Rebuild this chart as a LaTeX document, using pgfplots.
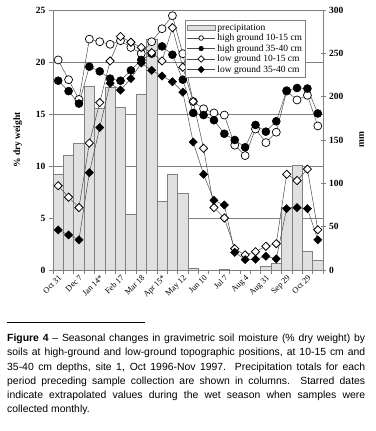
\documentclass[border=0pt]{standalone}
\usepackage{pgfplots}
\usepackage{pgfplotstable}
\pgfplotsset{compat=1.18}
\usepackage{fontspec}
\setmainfont{Liberation Serif}
\newfontfamily\capfont{Liberation Sans}
\definecolor{axgray}{gray}{0.5}
\definecolor{barfill}{gray}{0.88}
\pgfplotstableread{
x precip h10 h35 l10 l35
0 110 20.2 18.2 8.1 3.85
1 132 18.3 17.2 7.0 3.37
2 146 16.4 16.0 6.0 2.9
3 212 22.2 19.55 12.2 9.36
4 187 21.95 19.1 16.1 13.7
5 211 21.7 18.4 20.1 17.95
6 188 22.05 18.2 22.45 17.3
7 64 21.4 19.2 21.9 18.4
8 203 20.8 20.2 21.4 19.9
9 266 21.95 20.8 20.9 19.2
10 79 23.2 21.5 20.1 18.65
11 110 24.45 20.7 23.3 18.1
12 88 20.8 18.3 19.5 17.1
13 2.5 16.2 15.1 16.2 12.3
14 0 15.5 14.9 11.7 9.2
15 0 15.1 14.4 6.0 6.7
16 1 14.9 13.1 5.0 6.25
17 0 12.0 12.5 2.05 1.7
18 0 11.0 11.8 1.45 1.0
19 0 13.55 13.95 1.76 1.03
20 4.5 12.25 13.3 2.28 1.32
21 7.7 13.25 14.3 2.53 1.07
22 72 17.2 17.25 9.2 5.9
23 121 16.35 17.5 8.6 6.0
24 22 16.8 17.45 9.7 5.9
25 10.8 13.85 15.05 3.87 2.9
}\datatable
\begin{document}
\begin{tikzpicture}[x=1pt,y=1pt]
\path[use as bounding box] (0,0) rectangle (375,431);
\pgfplotsset{
  base/.style={
    scale only axis, width=270pt, height=260pt,
    at={(53pt,161pt)}, anchor=south west,
    xmin=-0.5, xmax=25.5,
    /pgf/number format/assume math mode=true,
    yticklabel style={font=\bfseries\fontsize{9.5}{10}\selectfont},
    axis line style={axgray, line width=0.6pt},
    tick style={axgray, line width=0.6pt},
    tick align=outside,
    major tick length=4pt,
    clip=false,
  }
}
% grid and left axis
\begin{axis}[base, ymin=0, ymax=25, ytick={0,5,...,25},
  ymajorgrids, grid style={axgray, line width=0.6pt},
  axis x line=none, axis y line*=left]
\addplot[draw=none] coordinates {(0,0)};
\node[rotate=90, font=\bfseries\fontsize{9.5}{11}\selectfont] at (axis description cs:-0.13,0.5) {\% dry weight};
\end{axis}
% precipitation bars, right axis
\begin{axis}[base, ymin=0, ymax=300, ytick={0,50,...,300},
  axis x line=none, axis y line*=right,
  major tick length=5pt, tick align=center]
\addplot[ybar, bar width=10.385pt, fill=barfill, draw=axgray, line width=0.6pt]
  table[x=x, y=precip] {\datatable};
\node[rotate=90, font=\bfseries\fontsize{9.5}{11}\selectfont] at (axis description cs:1.143,0.5) {mm};
\end{axis}
% moisture lines
\begin{axis}[base, ymin=0, ymax=25,
  axis y line=none, axis x line*=bottom,
  xtick={0,2,...,24},
  xticklabels={Oct 31,Dec 7,Jan 14*,Feb 17,Mar 18,Apr 15*,May 12,Jun 10,Jul 7,Aug 4,Aug 31,Sep 29,Oct 29},
  major tick length=0pt,
  minor xtick={-0.5,0.5,...,25.5},
  minor tick length=4pt,
  xticklabel style={rotate=45, anchor=north east, inner sep=3pt, font=\fontsize{8.3}{9}\selectfont},
  legend cell align=left,
  legend style={at={(0.489,0.9615)}, anchor=north west, draw=axgray, line width=0.6pt,
    font=\fontsize{9.5}{11}\selectfont, row sep=-1.6pt, inner sep=1.5pt, fill=white},
  legend image code/.code={%
    \draw[#1] (0pt,0pt) -- (28pt,0pt);
    \draw[#1, mark size=2.3pt] plot coordinates {(14pt,0pt)};},
  ]
\addlegendimage{legend image code/.code={\draw[fill=barfill, draw=axgray, line width=0.6pt] (0pt,-2.5pt) rectangle (28pt,2.5pt);}}
\addlegendentry{precipitation}
\addplot[color=black!70, line width=0.5pt, mark=*, mark size=4pt,
  mark options={draw=black, fill=white, line width=0.7pt}]
  table[x=x, y=h10] {\datatable};
\addlegendentry{high ground 10-15 cm}
\addplot[color=black!70, line width=0.5pt, mark=*, mark size=4pt,
  mark options={draw=black, fill=black}]
  table[x=x, y=h35] {\datatable};
\addlegendentry{high ground 35-40 cm}
\addplot[color=black!70, line width=0.5pt, mark=square*, mark size=2.9pt,
  mark options={rotate=45, draw=black, fill=white, line width=0.8pt}]
  table[x=x, y=l10] {\datatable};
\addlegendentry{low ground 10-15 cm}
\addplot[color=black!70, line width=0.5pt, mark=square*, mark size=2.9pt,
  mark options={rotate=45, draw=black, fill=black}]
  table[x=x, y=l35] {\datatable};
\addlegendentry{low ground 35-40 cm}
\end{axis}
% caption
\draw[line width=0.8pt] (7,108.3) -- (145,108.3);
\node[anchor=north west, inner sep=0pt] at (7,97) {\begin{minipage}{358pt}\capfont\fontsize{10.4}{14.2}\selectfont\parindent=0pt
\textbf{Figure 4} – Seasonal changes in gravimetric soil moisture (\% dry weight) by\linebreak
soils at high-ground and low-ground topographic positions, at 10-15 cm and\linebreak
35-40 cm depths, site 1, Oct 1996-Nov 1997.\ \ Precipitation totals for each\linebreak
period preceding sample collection are shown in columns.\ \ Starred dates\linebreak
indicate extrapolated values during the wet season when samples were\linebreak
collected monthly.\end{minipage}};
\end{tikzpicture}
\end{document}
